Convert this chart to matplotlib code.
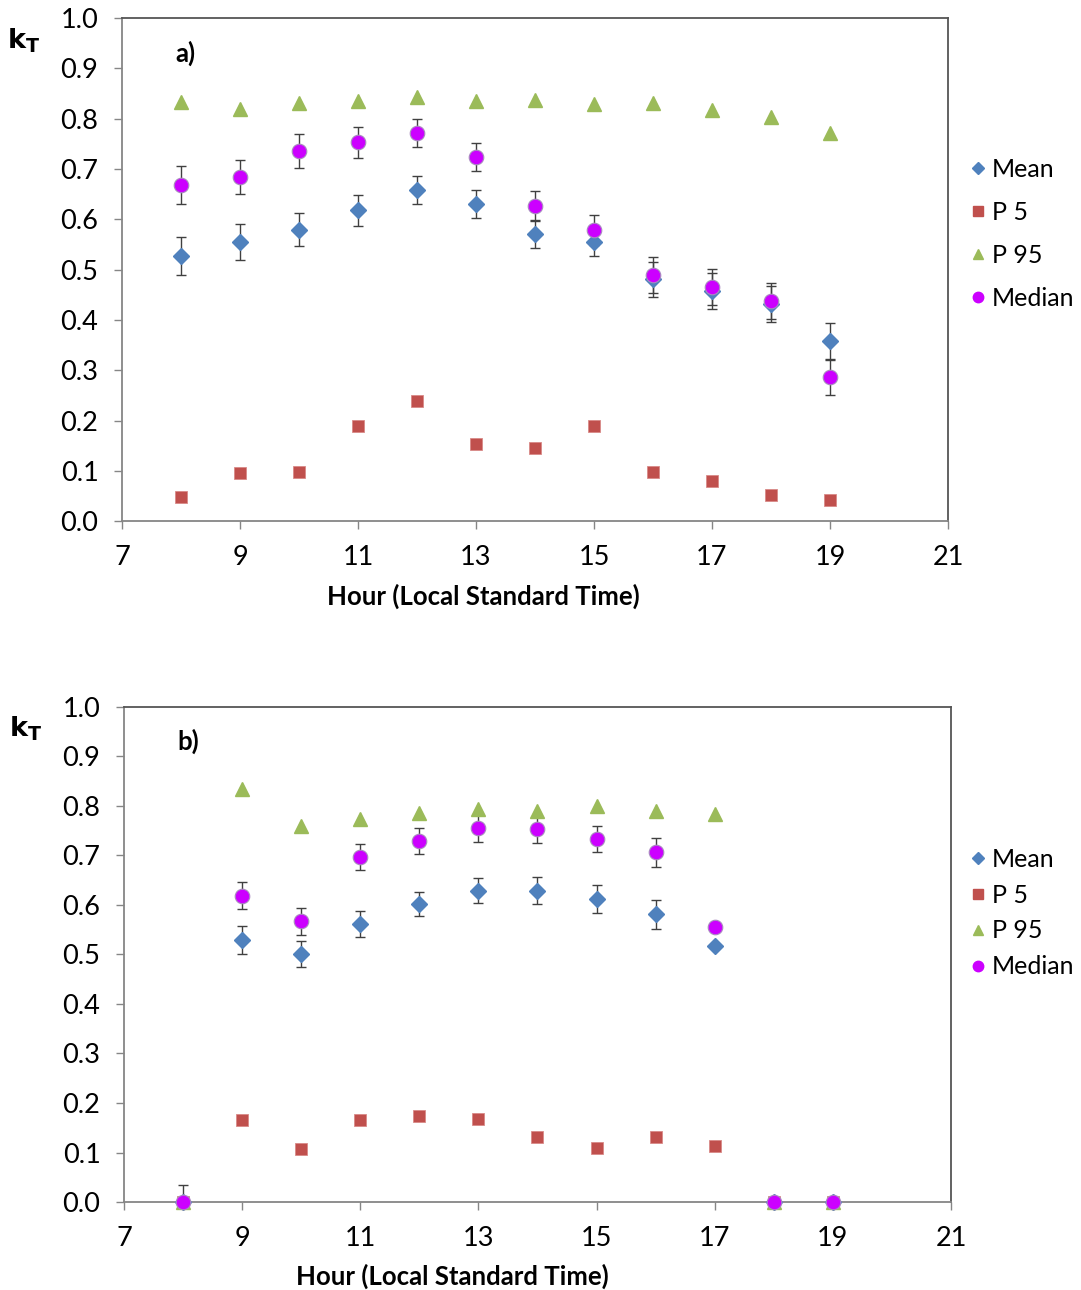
import numpy as np
import matplotlib
matplotlib.use('Agg')
import matplotlib.pyplot as plt
from matplotlib.lines import Line2D

plt.rcParams['font.family'] = ['Lato', 'DejaVu Sans']

hours = [8, 9, 10, 11, 12, 13, 14, 15, 16, 17, 18, 19]

# panel a)
mean_a = [0.527, 0.555, 0.579, 0.618, 0.658, 0.630, 0.571, 0.555, 0.481, 0.457, 0.432, 0.358]
mean_a_err = [0.038, 0.035, 0.033, 0.031, 0.028, 0.028, 0.028, 0.028, 0.035, 0.036, 0.036, 0.035]
p5_a = [0.048, 0.095, 0.097, 0.189, 0.239, 0.153, 0.145, 0.189, 0.097, 0.080, 0.052, 0.042]
p95_a = [0.833, 0.819, 0.831, 0.835, 0.843, 0.835, 0.837, 0.829, 0.831, 0.817, 0.803, 0.771]
median_a = [0.668, 0.684, 0.736, 0.753, 0.771, 0.724, 0.626, 0.578, 0.489, 0.465, 0.437, 0.286]
median_a_err = [0.038, 0.034, 0.034, 0.031, 0.028, 0.028, 0.030, 0.030, 0.036, 0.036, 0.036, 0.035]

# panel b)
mean_b = [0.0, 0.529, 0.501, 0.561, 0.602, 0.629, 0.629, 0.612, 0.581, 0.518, 0.0, 0.0]
mean_b_err = [0.035, 0.029, 0.027, 0.026, 0.025, 0.026, 0.027, 0.028, 0.030, 0.0, 0.0, 0.0]
p5_b = [0.0, 0.165, 0.107, 0.166, 0.174, 0.168, 0.132, 0.110, 0.132, 0.113, 0.0, 0.0]
p95_b = [0.0, 0.834, 0.760, 0.773, 0.786, 0.793, 0.790, 0.799, 0.790, 0.784, 0.0, 0.0]
median_b = [0.0, 0.619, 0.567, 0.697, 0.729, 0.755, 0.754, 0.733, 0.706, 0.555, 0.0, 0.0]
median_b_err = [0.0, 0.028, 0.027, 0.027, 0.026, 0.027, 0.028, 0.027, 0.030, 0.0, 0.0, 0.0]

c_mean = '#4F81BD'
c_p5 = '#C0504D'
c_p95 = '#9BBB59'
c_med = '#CC00FF'
spine_c = '#868686'

fig = plt.figure(figsize=(10.81, 12.9), dpi=100)
ax1 = fig.add_axes([0.1129, 0.596, 0.7641, 0.390])
ax2 = fig.add_axes([0.1147, 0.0682, 0.7650, 0.3838])


def draw(ax, mean, mean_err, p5, p95, med, med_err, tag, label_x, leg_y, leg_sp):
    x = np.array(hours)
    ax.errorbar(x, mean, yerr=mean_err, fmt='none', ecolor='#404040',
                elinewidth=1.0, capsize=3.5, capthick=1.0, zorder=2)
    ax.errorbar(x, med, yerr=med_err, fmt='none', ecolor='#404040',
                elinewidth=1.0, capsize=3.5, capthick=1.0, zorder=2)
    ax.plot(x, mean, 'D', color=c_mean, ms=8.5, mec=c_mean, ls='none',
            zorder=3, clip_on=False)
    ax.plot(x, p5, 's', color=c_p5, ms=9, mec='#d98a88', mew=0.6, ls='none',
            zorder=3, clip_on=False)
    ax.plot(x, p95, '^', color=c_p95, ms=10.5, mec=c_p95, ls='none',
            zorder=3, clip_on=False)
    ax.plot(x, med, 'o', color=c_med, ms=10.5, mec='#a98cc0', mew=0.8,
            ls='none', zorder=4, clip_on=False)

    ax.set_xlim(7, 21)
    ax.set_ylim(0, 1.0)
    ax.set_xticks(np.arange(7, 22, 2))
    ax.set_yticks(np.arange(0, 1.01, 0.1))
    ax.set_yticklabels(['%.1f' % v for v in np.arange(0, 1.01, 0.1)])
    ax.tick_params(direction='out', length=6, width=1, color=spine_c,
                   labelsize=19.5, labelcolor='black')
    ax.tick_params(axis='y', pad=11)
    ax.tick_params(axis='x', pad=11)
    for s in ax.spines.values():
        s.set_color(spine_c)
        s.set_linewidth(1.3)
    ax.spines['top'].set_color('#555555')
    ax.spines['right'].set_color('#555555')
    ax.set_xlabel('Hour (Local Standard Time)', fontsize=18.5,
                  fontweight='bold', labelpad=8)
    ax.xaxis.set_label_coords(label_x, -0.125)
    ax.text(7.9, 0.93, tag, fontsize=18.5, fontweight='bold', va='center')
    ax.text(-0.119, 0.955, r'$\mathbf{k}_{\mathbf{T}}$', transform=ax.transAxes,
            fontsize=19.5, ha='center', va='center')

    handles = [
        Line2D([], [], marker='D', color=c_mean, ls='none', ms=6),
        Line2D([], [], marker='s', color=c_p5, ls='none', ms=7),
        Line2D([], [], marker='^', color=c_p95, ls='none', ms=7.5),
        Line2D([], [], marker='o', color=c_med, ls='none', ms=7.5),
    ]
    fig.legend(handles, ['Mean', 'P 5', 'P 95', 'Median'],
               loc='upper left', bbox_to_anchor=(0.8975, leg_y),
               frameon=False, fontsize=18, handlelength=0.6,
               handletextpad=0.28, labelspacing=leg_sp, borderaxespad=0,
               borderpad=0)


draw(ax1, mean_a, mean_a_err, p5_a, p95_a, median_a, median_a_err, 'a)',
     0.438, 1 - 158 / 1290, 0.8)
draw(ax2, mean_b, mean_b_err, p5_b, p95_b, median_b, median_b_err, 'b)',
     0.397, 1 - 848 / 1290, 0.51)

fig.savefig('out.png', dpi=100, facecolor='white')
